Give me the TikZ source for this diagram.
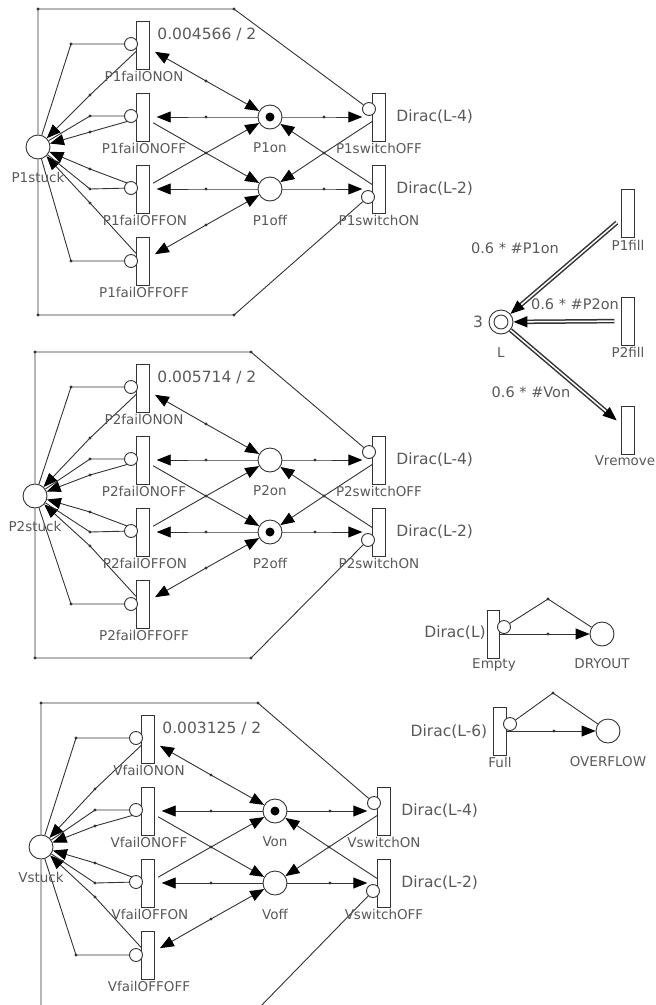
\documentclass[tikz,border=0pt]{standalone}
\usepackage{fontspec}
\setmainfont{DejaVu Sans}
\usetikzlibrary{arrows.meta}
\colorlet{ink}{black!80}
\begin{document}
\begin{tikzpicture}[x=1pt,y=-1pt,line width=0.9pt,color=ink,
  head/.tip={Triangle[length=14pt,width=11pt,black]},
  toward/.style={-head},
  both/.style={head-head},
  trans/.style={rectangle,draw,fill=white,minimum width=12.5pt,minimum height=48pt,inner sep=0pt},
  place/.style={circle,draw,fill=white,minimum size=24pt,inner sep=0pt},
  inhib/.style={circle,draw,fill=white,minimum size=13pt,inner sep=0pt},
  token/.style={circle,fill=black,minimum size=9pt,inner sep=0pt},
  knot/.style={circle,fill,minimum size=3.4pt,inner sep=0pt},
  tag/.style={text=black!65,inner sep=0pt,font=\fontsize{13.5}{15}\selectfont},
  value/.style={text=black!65,inner sep=0pt,font=\fontsize{15.5}{18}\selectfont},
  weight/.style={text=black!65,inner sep=0pt,font=\fontsize{14.5}{18}\selectfont},
  fluid/.style={double=white,double distance=1.5pt,line width=1.5pt}]
 \useasboundingbox (0,0) rectangle (656,1005);
 \clip (0,0) rectangle (656,1005);
 \foreach \pre/\dx/\dy/\sx/\sy/\cx/\hk/\rate/\tok/\swa/\swb in {
   P1/0/0/38/147/234/324/{0.004566 / 2}/on/OFF/ON,
   P2/0/343/35/153/251/315/{0.005714 / 2}/off/OFF/ON,
   V/5/694/36/153/253/325/{0.003125 / 2}/on/ON/OFF} {
 \begin{scope}[shift={(\dx,\dy)}]
  \node[trans] (\pre failONON) at (143,45) {};
  \node[trans] (\pre failONOFF) at (143,117) {};
  \node[trans] (\pre failOFFON) at (143,189) {};
  \node[trans] (\pre failOFFOFF) at (143,261) {};
  \node[trans] (\pre switchA) at (379,117) {};
  \node[trans] (\pre switchB) at (379,189) {};
  \node[place] (\pre stuck) at (\sx,\sy) {};
  \node[place] (\pre on) at (270,117) {};
  \node[place] (\pre off) at (270,189) {};
  \node[token] (\pre tokenA) at (\pre\tok) {};
  \node[knot] (\pre kSa) at (71,44) {}; \node[knot] (\pre kSb) at (90,95) {};
  \node[knot] (\pre kSc) at (90,116) {}; \node[knot] (\pre kSd) at (90,132) {};
  \node[knot] (\pre kSe) at (90,169) {}; \node[knot] (\pre kSf) at (90,189) {};
  \node[knot] (\pre kSg) at (90,203) {}; \node[knot] (\pre kSh) at (71,261) {};
  \node[knot] (\pre kTa) at (206,81) {}; \node[knot] (\pre kTb) at (206,117) {};
  \node[knot] (\pre kTc) at (206,153) {}; \node[knot] (\pre kTd) at (206,189) {};
  \node[knot] (\pre kTe) at (206,225) {};
  \node[knot] (\pre kRa) at (\hk,117) {}; \node[knot] (\pre kRb) at (324,153) {};
  \node[knot] (\pre kRc) at (\hk,189) {};
  \node[knot] (\pre cTl) at (\sx,9) {}; \node[knot] (\pre cTr) at (\cx,9) {};
  \node[knot] (\pre cBl) at (\sx,315) {}; \node[knot] (\pre cBr) at (\cx,315) {};
  \draw[toward] (\pre failONON) -- (\pre kSb.center) -- (\pre stuck);
  \draw[toward] (\pre failONOFF) -- (\pre kSd.center) -- (\pre stuck);
  \draw[toward] (\pre failOFFON) -- (\pre kSe.center) -- (\pre stuck);
  \draw[toward] (\pre failOFFOFF) -- (\pre kSg.center) -- (\pre stuck);
  \draw[both,shorten <=6pt] (\pre failONON) -- (\pre kTa.center) -- (\pre on);
  \draw[both,shorten <=6pt] (\pre failOFFOFF) -- (\pre kTe.center) -- (\pre off);
  \draw[toward,shorten >=7pt] (\pre on) -- (\pre kTb.center) -- (\pre failONOFF);
  \draw[toward,shorten >=7pt] (\pre off) -- (\pre kTd.center) -- (\pre failOFFON);
  \draw[toward,shorten <=4pt] (\pre failONOFF) -- (\pre kTc.center) -- (\pre off);
  \draw[toward,shorten <=4pt] (\pre failOFFON) -- (\pre kTc.center) -- (\pre on);
  \draw[toward] (\pre switchA) -- (\pre kRb.center) -- (\pre off);
  \draw[toward] (\pre switchB) -- (\pre kRb.center) -- (\pre on);
  \draw[toward,shorten >=10pt] (\pre on) -- (\pre kRa.center) -- (\pre switchA);
  \draw[toward,shorten >=10pt] (\pre off) -- (\pre kRc.center) -- (\pre switchB);
  \node[inhib] (\pre inhA) at (131,44) {};
  \node[inhib] (\pre inhB) at (131,116) {};
  \node[inhib] (\pre inhC) at (131,188) {};
  \node[inhib] (\pre inhD) at (131,261) {};
  \node[inhib] (\pre inhE) at (369,109) {};
  \node[inhib] (\pre inhF) at (368,197) {};
  \draw (\pre stuck) -- (\pre kSa.center) -- (\pre inhA);
  \draw (\pre stuck) -- (\pre kSc.center) -- (\pre inhB);
  \draw (\pre stuck) -- (\pre kSf.center) -- (\pre inhC);
  \draw (\pre stuck) -- (\pre kSh.center) -- (\pre inhD);
  \draw (\pre stuck) -- (\pre cTl.center) -- (\pre cTr.center) -- (\pre inhE);
  \draw (\pre stuck) -- (\pre cBl.center) -- (\pre cBr.center) -- (\pre inhF);
  \node[tag] (\pre stucktag) at (\sx,\sy+30) {\pre stuck};
  \node[tag] (\pre ononTag) at (144,76) {\pre failONON};
  \node[tag] (\pre onoffTag) at (144,148) {\pre failONOFF};
  \node[tag] (\pre offonTag) at (145,220) {\pre failOFFON};
  \node[tag] (\pre offoffTag) at (144,292) {\pre failOFFOFF};
  \node[tag] (\pre onTag) at (270,148) {\pre on};
  \node[tag] (\pre offTag) at (270,220) {\pre off};
  \node[tag] (\pre swaTag) at (379,148) {\pre switch\swa};
  \node[tag] (\pre swbTag) at (379,220) {\pre switch\swb};
  \node[value,anchor=west] (\pre rate) at (157,34) {\rate};
  \node[value,anchor=west] (\pre diracA) at (396,117) {Dirac(L-4)};
  \node[value,anchor=west] (\pre diracB) at (396,189) {Dirac(L-2)};
 \end{scope}
 }
 \node[trans] (P1fill) at (628,213) {};
 \node[trans] (P2fill) at (628,321) {};
 \node[trans] (Vremove) at (628,430) {};
 \node[place] (L) at (501,322) {};
 \node[place,minimum size=14pt] (Linner) at (L) {};
 \draw[fluid,toward,shorten <=6pt] (P1fill) -- (L);
 \draw[fluid,toward,shorten <=7pt] (P2fill) -- (L);
 \draw[fluid,toward,shorten >=6pt] (L) -- (Vremove);
 \node[tag] (P1filltag) at (628,245) {P1fill};
 \node[tag] (P2filltag) at (628,352) {P2fill};
 \node[tag] (Vremovetag) at (625,461) {Vremove};
 \node[tag] (Ltag) at (501,353) {L};
 \node[value] (Lcount) at (478,322) {3};
 \node[weight] (P1weight) at (515,248) {0.6 * \#P1on};
 \node[weight] (P2weight) at (575,304) {0.6 * \#P2on};
 \node[weight] (Vweight) at (531,392) {0.6 * \#Von};
 \node[trans] (Empty) at (493.5,634) {};
 \node[place] (DRYOUT) at (602,634) {};
 \node[knot] (ka) at (548,599) {};
 \node[knot] (kb) at (548,634) {};
 \draw[toward] (Empty) -- (kb.center) -- (DRYOUT);
 \node[inhib] (inhEmpty) at (504,627) {};
 \draw (DRYOUT) -- (ka.center) -- (inhEmpty);
 \node[value] (diracEmpty) at (455,633) {Dirac(L)};
 \node[tag] (Emptytag) at (494,665) {Empty};
 \node[tag] (DRYOUTtag) at (602,664) {DRYOUT};
 \node[trans] (Full) at (500,731) {};
 \node[place] (OVERFLOW) at (608,731) {};
 \node[knot] (kc) at (553,693) {};
 \node[knot] (kd) at (554,731) {};
 \draw[toward] (Full) -- (kd.center) -- (OVERFLOW);
 \node[inhib] (inhFull) at (510,724) {};
 \draw (OVERFLOW) -- (kc.center) -- (inhFull);
 \node[value] (diracFull) at (449,732) {Dirac(L-6)};
 \node[tag] (Fulltag) at (500,762) {Full};
 \node[tag] (OVERFLOWtag) at (608,762) {OVERFLOW};
\end{tikzpicture}
\end{document}
